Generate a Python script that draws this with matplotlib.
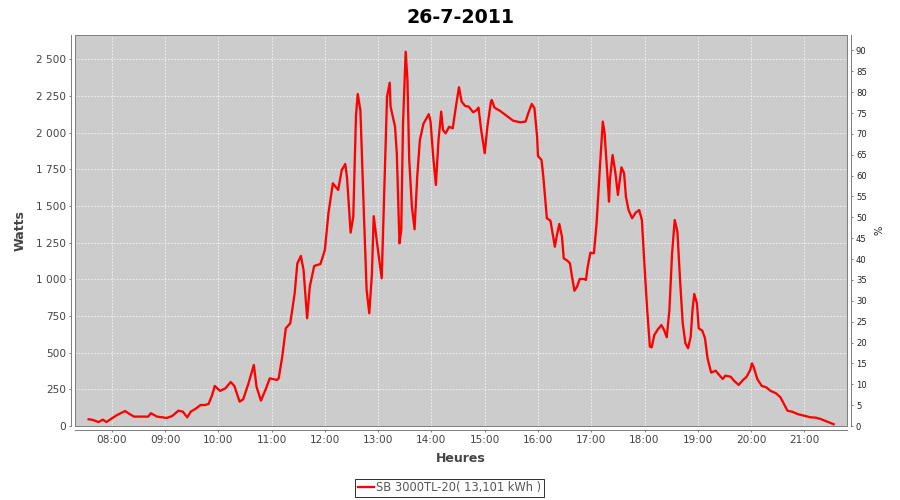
import matplotlib
matplotlib.use("Agg")
import matplotlib.pyplot as plt
from matplotlib.patches import Rectangle
from matplotlib.ticker import FixedLocator, FuncFormatter

TITLE = "26-7-2011"
SERIES_LABEL = "SB 3000TL-20( 13,101 kWh )"

times = [
    "07:34", "07:39", "07:45", "07:50", "07:54", "08:00", "08:06", "08:10", "08:15", "08:20",
    "08:25", "08:34", "08:41", "08:44", "08:51", "08:56", "09:02", "09:08", "09:15", "09:20",
    "09:25", "09:29", "09:35", "09:40", "09:45", "09:49", "09:53", "09:56", "10:02", "10:08",
    "10:14", "10:18", "10:24", "10:28", "10:34", "10:40", "10:43", "10:48", "10:53", "10:58",
    "11:06", "11:08", "11:12", "11:16", "11:21", "11:26", "11:29", "11:33", "11:36", "11:40",
    "11:43", "11:48", "11:55", "12:00", "12:04", "12:09", "12:15", "12:19", "12:23", "12:25",
    "12:29", "12:32", "12:35", "12:37", "12:40", "12:44", "12:47", "12:50", "12:53", "12:55",
    "13:00", "13:04", "13:07", "13:10", "13:13", "13:14", "13:19", "13:21", "13:24", "13:26",
    "13:28", "13:31", "13:33", "13:35", "13:38", "13:41", "13:44", "13:47", "13:51", "13:57",
    "13:59", "14:02", "14:05", "14:08", "14:11", "14:13", "14:16", "14:20", "14:24", "14:27",
    "14:31", "14:34", "14:38", "14:42", "14:47", "14:51", "14:53", "14:56", "15:00", "15:03",
    "15:07", "15:08", "15:11", "15:17", "15:25", "15:32", "15:40", "15:46", "15:49", "15:53",
    "15:56", "15:59", "16:00", "16:04", "16:06", "16:10", "16:14", "16:19", "16:21", "16:24",
    "16:27", "16:29", "16:33", "16:36", "16:38", "16:41", "16:44", "16:47", "16:52", "16:54",
    "16:56", "16:59", "17:03", "17:06", "17:10", "17:13", "17:15", "17:18", "17:20", "17:21",
    "17:24", "17:27", "17:30", "17:34", "17:37", "17:39", "17:42", "17:46", "17:50", "17:54",
    "17:57", "18:00", "18:03", "18:06", "18:08", "18:11", "18:15", "18:19", "18:22", "18:25",
    "18:28", "18:31", "18:34", "18:37", "18:40", "18:43", "18:46", "18:49", "18:52", "18:54",
    "18:56", "18:59", "19:01", "19:05", "19:08", "19:11", "19:15", "19:20", "19:24", "19:28",
    "19:31", "19:37", "19:41", "19:46", "19:51", "19:55", "19:59", "20:01", "20:03", "20:07",
    "20:12", "20:17", "20:22", "20:28", "20:33", "20:37", "20:41", "20:46", "20:53", "21:00",
    "21:07", "21:13", "21:19", "21:26", "21:33",
]
watts = [
    46, 41, 27, 43, 27, 52, 75, 87, 102, 82,
    64, 64, 64, 87, 64, 60, 55, 68, 104, 98,
    59, 98, 120, 143, 143, 150, 211, 273, 239, 257,
    300, 273, 166, 182, 291, 416, 268, 173, 245, 325,
    314, 325, 473, 666, 700, 905, 1109, 1159, 1063, 734,
    950, 1091, 1104, 1200, 1450, 1654, 1609, 1745, 1786, 1688,
    1318, 1427, 2113, 2263, 2154, 1438, 927, 768, 1041, 1430,
    1188, 1007, 1631, 2245, 2340, 2177, 2040, 1859, 1245, 1336,
    2063, 2551, 2358, 1813, 1495, 1341, 1699, 1950, 2060, 2125,
    2075, 1836, 1643, 1950, 2143, 2018, 1995, 2040, 2029, 2154,
    2309, 2211, 2181, 2177, 2138, 2154, 2170, 2018, 1859, 2040,
    2211, 2222, 2170, 2149, 2113, 2081, 2070, 2075, 2131, 2195,
    2166, 1972, 1840, 1813, 1700, 1416, 1400, 1222, 1291, 1377,
    1291, 1143, 1127, 1109, 1029, 922, 950, 1002, 1002, 995,
    1086, 1181, 1177, 1382, 1791, 2075, 1995, 1723, 1529, 1677,
    1847, 1734, 1575, 1763, 1723, 1563, 1472, 1416, 1454, 1472,
    1404, 1086, 791, 541, 536, 620, 659, 688, 654, 605,
    791, 1177, 1404, 1325, 995, 700, 564, 530, 609, 791,
    900, 836, 666, 650, 600, 460, 364, 377, 348, 320,
    343, 336, 307, 280, 314, 336, 382, 427, 400, 320,
    273, 264, 239, 223, 196, 150, 104, 98, 80, 70,
    59, 57, 46, 29, 12,
]

hour_ticks = list(range(8, 22))
watt_ticks = list(range(0, 2501, 250))
pct_ticks = list(range(0, 91, 5))


def to_hours(s):
    h, m = s.split(":")
    return int(h) + int(m) / 60.0


def fmt_watts(v, pos):
    v = int(round(v))
    return f"{v:,}".replace(",", " ")


def fmt_hours(v, pos):
    return f"{int(round(v)):02d}:00"


hours = [to_hours(t) for t in times]

BG = "#cccccc"
GRAY = "#444444"
RED = "#ff0000"

plt.rcParams.update({
    "font.family": "DejaVu Sans",
    "axes.linewidth": 1.0,
})

fig = plt.figure(figsize=(900 / 72, 500 / 72), dpi=72)
ax = fig.add_axes([75 / 900, 74 / 500, 772 / 900, 391 / 500])
ax.set_facecolor(BG)

line, = ax.plot(hours, watts, color=RED, linewidth=2.3, solid_joinstyle="round",
                label=SERIES_LABEL, zorder=3)

ax.set_xlim(7.31, 21.80)
ax.set_ylim(0, 2665)
ax.xaxis.set_major_locator(FixedLocator(hour_ticks))
ax.xaxis.set_major_formatter(FuncFormatter(fmt_hours))
ax.yaxis.set_major_locator(FixedLocator(watt_ticks))
ax.yaxis.set_major_formatter(FuncFormatter(fmt_watts))
ax.grid(True, color="white", linestyle=(0, (2, 2)), linewidth=0.8, alpha=0.85)
ax.set_axisbelow(True)

for side in ("top", "right"):
    ax.spines[side].set_visible(False)
for side in ("left", "bottom"):
    ax.spines[side].set_position(("outward", 4))
    ax.spines[side].set_color("#808080")
ax.add_patch(Rectangle((0, 0), 1, 1, transform=ax.transAxes, fill=False,
                       edgecolor="#808080", linewidth=1.0, clip_on=False, zorder=4))

ax.tick_params(axis="both", direction="out", length=2, width=1, colors="#808080",
               labelcolor=GRAY, labelsize=10.5, pad=3)

ax.set_xlabel("Heures", fontsize=12.5, fontweight="bold", color=GRAY, labelpad=7)
ax.set_ylabel("Watts", fontsize=12.5, fontweight="bold", color=GRAY, labelpad=9)
ax.set_title(TITLE, fontsize=19, fontweight="bold", color="black", pad=12)

ax2 = ax.twinx()
ax2.set_ylim(0, 93.7)
ax2.yaxis.set_major_locator(FixedLocator(pct_ticks))
for side in ("top", "left", "bottom"):
    ax2.spines[side].set_visible(False)
ax2.spines["right"].set_position(("outward", 4))
ax2.spines["right"].set_color("#808080")
ax2.tick_params(axis="y", direction="out", length=2, width=1, colors="#808080",
                labelcolor="#222222", labelsize=8.5, pad=3)
ax2.set_ylabel("%", fontsize=10, color="#222222", labelpad=8)

leg = fig.legend(handles=[line], loc="center", bbox_to_anchor=(449.5 / 900, 1 - 488 / 500),
                 frameon=True, fancybox=False, fontsize=11.5, handlelength=1.4,
                 handletextpad=0.2, borderpad=0.2, borderaxespad=0)
leg.get_frame().set_edgecolor("black")
leg.get_frame().set_linewidth(1.0)
for txt in leg.get_texts():
    txt.set_color("#555555")

fig.savefig("out.png", dpi=72, facecolor="white")
